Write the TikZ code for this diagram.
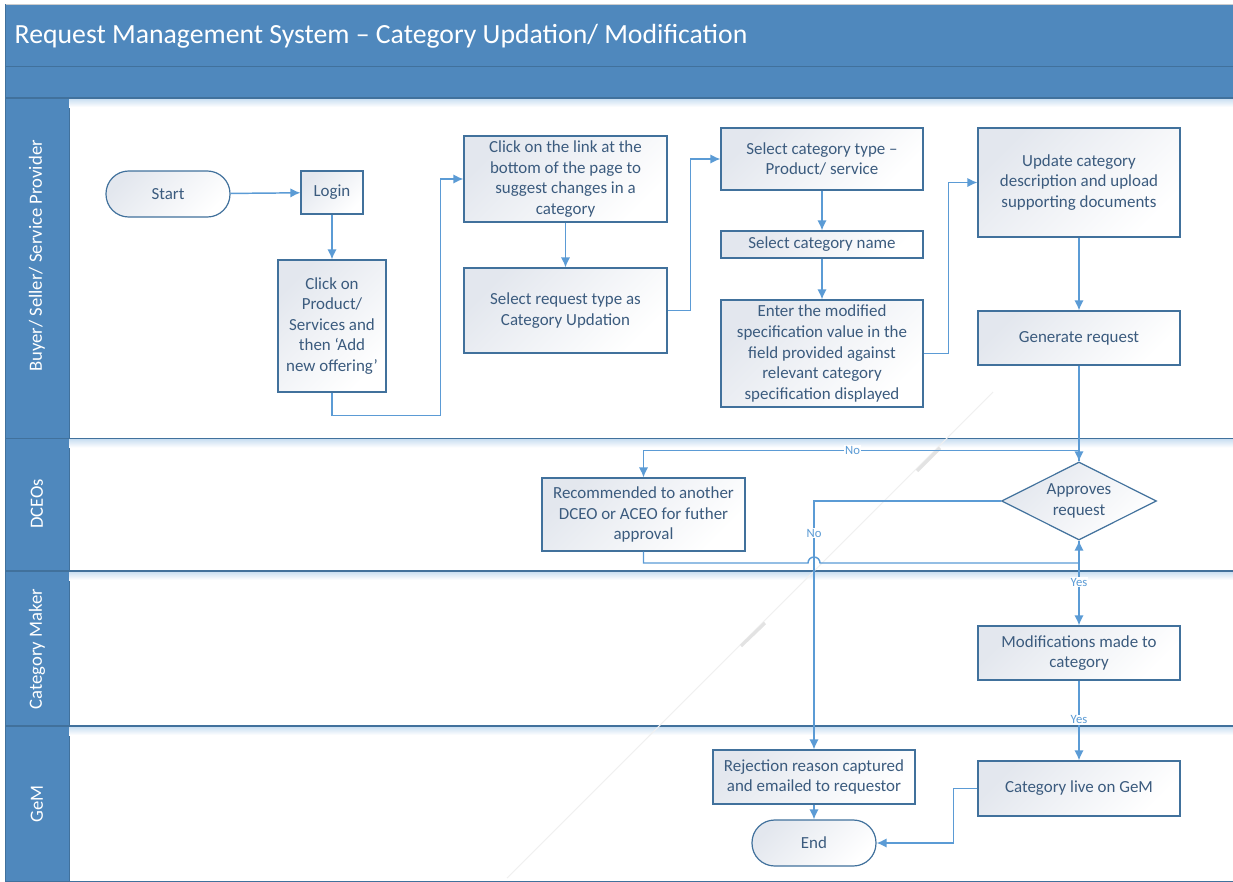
\documentclass[tikz,border=0pt]{standalone}
\usepackage{fontspec}
\setmainfont{Carlito}
\usetikzlibrary{shapes.geometric,arrows.meta}

\definecolor{laneblue}{HTML}{4F88BD}
\definecolor{laneline}{HTML}{41719C}
\definecolor{flowblue}{HTML}{5B9BD5}
\definecolor{boxtext}{HTML}{3B5B7E}
\definecolor{boxshade}{HTML}{E3E7EE}

\begin{document}
\begin{tikzpicture}[x=0.75pt, y=-0.75pt,
    procbox/.style={draw=laneline, line width=0.9pt, top color=boxshade, bottom color=white, shading angle=45,
        text=boxtext, align=center, inner sep=1pt, font=\fontsize{12.7}{15.4}\selectfont},
    termbox/.style={procbox, rounded corners=17pt},
    decision/.style={procbox, diamond, aspect=2, inner sep=0pt},
    flow/.style={draw=flowblue, line width=1.1pt, -{Latex[length=7.5pt,width=7pt]}},
    branch/.style={fill=white, text=flowblue, inner sep=0.8pt, font=\fontsize{9.5}{11}\selectfont},
    lanename/.style={rotate=90, text=white, font=\fontsize{14}{17}\selectfont}]

    % constants
    \def\px{0.75pt}
    \def\xr{1233}

    \useasboundingbox (0,0) rectangle (\xr,882);

    % header bands and lane column
    \fill[laneblue] (5,4) rectangle (\xr,98);
    \fill[laneblue] (5,98) rectangle (69,881);
    \draw[gray!40] (5,4) -- (\xr,4);
    \draw[laneline] (5,66) -- (\xr,66);
    \draw[laneline] (5,4) -- (5,881) -- (\xr,881);
    \draw[laneline] (69,98) -- (69,881);

    \node[anchor=west, text=white, font=\fontsize{20.8}{24}\selectfont] (title) at (10,36)
        {Request Management System – Category Updation/ Modification};

    % lane separators with their soft shadow
    \foreach \ly in {98,438.5,571,726} {
        \shade[top color=flowblue!35, bottom color=white] (69,\ly) rectangle (\xr,\ly+9);
        \draw[laneline, line width=0.9pt] (5,\ly) -- (\xr,\ly);
    }

    % lane names
    \node[lanename] (buyer) at (37,256) {Buyer/ Seller/ Service Provider};
    \node[lanename] (dceo) at (37,504) {DCEOs};
    \node[lanename] (maker) at (37,649) {Category Maker};
    \node[lanename] (gem) at (37,804) {GeM};

    % faint diagonal stroke
    \draw[gray!12, line width=0.8pt] (993,392) -- (507,878);
    \draw[gray!22, line width=2.4pt] (940,448) -- (917,471);
    \draw[gray!22, line width=2.4pt] (765,623) -- (741,646);

    % buyer / seller lane
    \node[termbox, minimum width=124*\px, minimum height=46*\px] (start) at (168,194) {Start};
    \node[procbox, minimum width=62*\px, minimum height=43*\px] (login) at (332,192.5) {Login};
    \node[procbox, minimum width=108*\px, minimum height=132*\px] (offer) at (332,326)
        {Click on\\Product/\\Services and\\then ‘Add\\new offering’};
    \node[procbox, minimum width=203*\px, minimum height=86*\px] (link) at (565.5,179)
        {Click on the link at the\\bottom of the page to\\suggest changes in a\\category};
    \node[procbox, minimum width=203*\px, minimum height=85*\px] (reqtype) at (565.5,310.5)
        {Select request type as\\Category Updation};
    \node[procbox, minimum width=202*\px, minimum height=62*\px] (cattype) at (822,159)
        {Select category type –\\Product/ service};
    \node[procbox, minimum width=202*\px, minimum height=27*\px] (catname) at (822,244.5)
        {Select category name};
    \node[procbox, minimum width=202*\px, minimum height=107*\px] (specval) at (822,353.5)
        {Enter the modified\\specification value in the\\field provided against\\relevant category\\specification displayed};
    \node[procbox, minimum width=202*\px, minimum height=109*\px] (update) at (1079,182.5)
        {Update category\\description and upload\\supporting documents};
    \node[procbox, minimum width=202*\px, minimum height=54*\px] (generate) at (1079,338)
        {Generate request};

    % DCEO lane
    \node[decision, minimum width=155*\px, minimum height=78*\px] (approve) at (1079,501)
        {Approves\\request};
    \node[procbox, minimum width=203*\px, minimum height=73*\px] (recommend) at (643.5,514.5)
        {Recommended to another\\DCEO or ACEO for futher\\approval};

    % category maker lane
    \node[procbox, minimum width=202*\px, minimum height=54*\px] (modify) at (1079,653)
        {Modifications made to\\category};

    % GeM lane
    \node[procbox, minimum width=202*\px, minimum height=55*\px] (live) at (1079,788.5)
        {Category live on GeM};
    \node[procbox, minimum width=202*\px, minimum height=54*\px] (reject) at (814,777)
        {Rejection reason captured\\and emailed to requestor};
    \node[termbox, minimum width=124*\px, minimum height=46*\px] (stop) at (814,843) {End};

    % connectors
    \draw[flow] (start) -- (login);
    \draw[flow] (login) -- (offer);
    \draw[flow] (offer.south) -- ++(0,23) -| ([xshift=-23*\px]link.west) -- (link.west);
    \draw[flow] (link) -- (reqtype);
    \draw[flow] (reqtype.east) -- ++(23,0) |- (cattype.west);
    \draw[flow] (cattype) -- (catname);
    \draw[flow] (catname) -- (specval);
    \draw[flow] (specval.east) -- ++(25,0) |- (update.west);
    \draw[flow] (update) -- (generate);
    \draw[flow] (generate) -- (approve);

    \draw[flow] (approve.north) -- ++(0,-11) -| node[branch, pos=0.26] {No} (recommend.north);
    \draw[flow] (approve.west) -| node[branch, pos=0.565] {No} (reject.north);

    % return line hops over the rejection line
    \coordinate (hop) at (814,563);
    \draw[flow] (recommend.south) |- ([xshift=-6*\px]hop) arc[start angle=180, end angle=360, radius=6]
        -| (approve.south);

    \draw[flow] (approve.south) -- node[branch, pos=0.49] {Yes} (modify.north);
    \draw[flow] (modify) -- node[branch, pos=0.49] {Yes} (live);
    \draw[flow] (live.west) -- ++(-24,0) |- (stop.east);
    \draw[flow] (reject) -- (stop);

\end{tikzpicture}
\end{document}
